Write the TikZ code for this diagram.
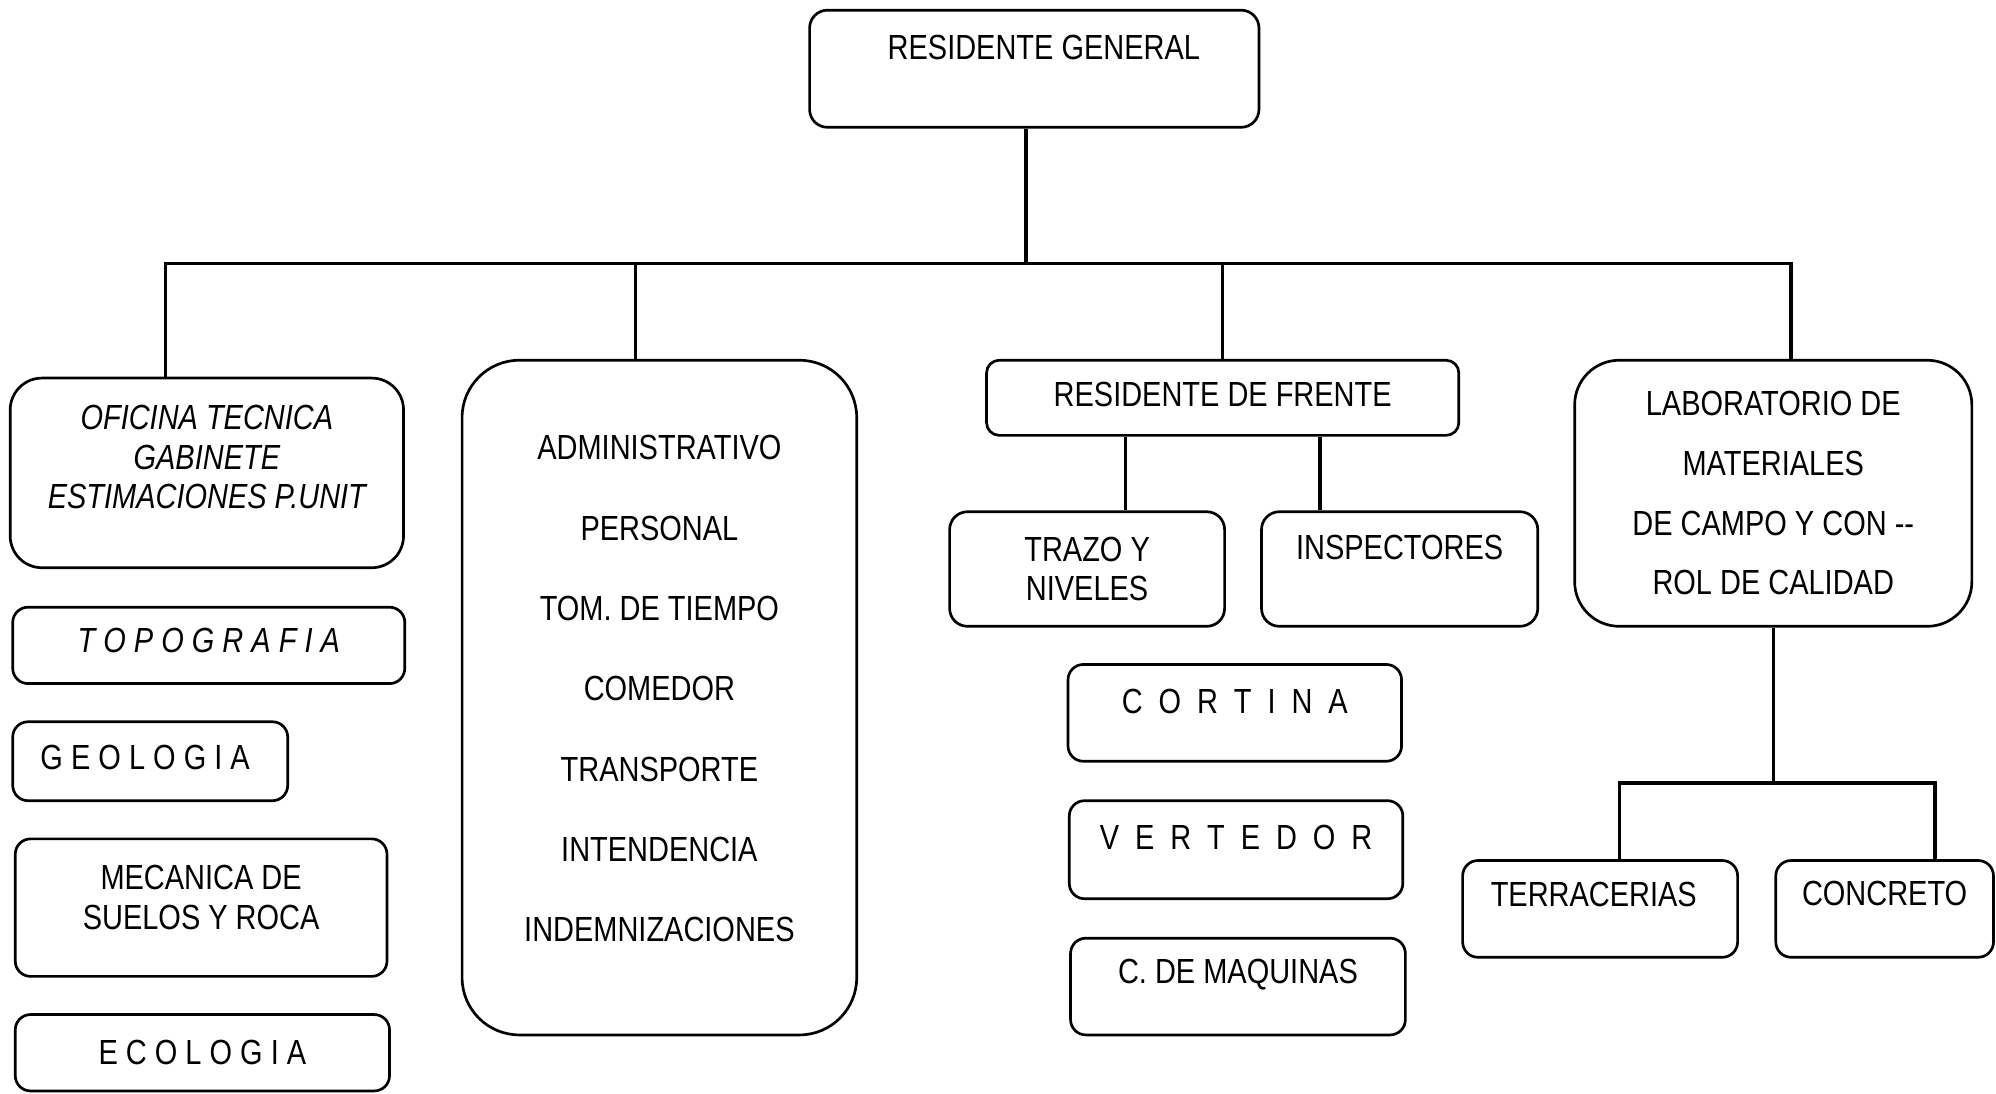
\documentclass[tikz,border=0pt]{standalone}
\usepackage{fontspec}
\setmainfont{Liberation Sans}[FakeStretch=0.83]
\newcommand\spaced[1]{{\spaceskip=0.25cm\relax #1}}

\begin{document}
\begin{tikzpicture}[
  box/.style={draw, line width=1.2pt, rounded corners=0.24cm, inner sep=0pt},
  txt/.style={align=center, inner sep=0pt, font=\fontsize{15.6}{17.6}\selectfont},
  itxt/.style={txt, font=\fontsize{15.6}{17.6}\selectfont\itshape},
  line/.style={line width=1.5pt}
]
\useasboundingbox (0,0) rectangle (31.36,-17.18);
\node[box, rounded corners=0.28cm, minimum width=7.06cm, minimum height=1.84cm,
  label={[txt,xshift=0.15cm,yshift=0.34cm]center:RESIDENTE GENERAL}] (gen) at (16.25,-1.08) {};
\node[box, rounded corners=0.5cm, minimum width=6.18cm, minimum height=2.98cm,
  label={[itxt,yshift=0.25cm]center:OFICINA TECNICA\\GABINETE\\ESTIMACIONES P.UNIT}] (oficina) at (3.25,-7.43) {};
\node[box, minimum width=6.16cm, minimum height=1.20cm,
  label={[itxt,yshift=0.08cm]center:T O P O G R A F I A}] (topo) at (3.28,-10.14) {};
\node[box, minimum width=4.32cm, minimum height=1.24cm,
  label={[txt,xshift=-0.08cm,yshift=0.06cm]center:G E O L O G I A}] (geo) at (2.36,-11.96) {};
\node[box, minimum width=5.84cm, minimum height=2.16cm,
  label={[txt,yshift=0.16cm]center:MECANICA DE\\SUELOS Y ROCA}] (suelos) at (3.16,-14.26) {};
\node[box, minimum width=5.88cm, minimum height=1.20cm,
  label={[txt]center:E C O L O G I A}] (eco) at (3.18,-16.54) {};
\node[box, rounded corners=0.9cm, minimum width=6.20cm, minimum height=10.60cm,
  label={[txt,yshift=0.14cm]center:ADMINISTRATIVO\\[18.3pt]PERSONAL\\[18.3pt]TOM. DE TIEMPO\\[18.3pt]COMEDOR\\[18.3pt]TRANSPORTE\\[18.3pt]INTENDENCIA\\[18.3pt]INDEMNIZACIONES}] (admin) at (10.36,-10.96) {};
\node[box, rounded corners=0.2cm, minimum width=7.42cm, minimum height=1.18cm,
  label={[txt,yshift=0.05cm]center:RESIDENTE DE FRENTE}] (frente) at (19.21,-6.25) {};
\node[box, rounded corners=0.28cm, minimum width=4.32cm, minimum height=1.80cm,
  label={[txt]center:TRAZO Y\\NIVELES}] (trazo) at (17.08,-8.94) {};
\node[box, rounded corners=0.28cm, minimum width=4.34cm, minimum height=1.80cm,
  label={[txt,yshift=0.34cm]center:INSPECTORES}] (insp) at (21.99,-8.94) {};
\node[box, minimum width=5.24cm, minimum height=1.52cm,
  label={[txt,yshift=0.18cm]center:\spaced{C O R T I N A}}] (cortina) at (19.40,-11.20) {};
\node[box, minimum width=5.24cm, minimum height=1.54cm,
  label={[txt,yshift=0.19cm]center:\spaced{V E R T E D O R}}] (vertedor) at (19.42,-13.35) {};
\node[box, minimum width=5.26cm, minimum height=1.52cm,
  label={[txt,yshift=0.18cm]center:C. DE MAQUINAS}] (maquinas) at (19.45,-15.50) {};
\node[box, rounded corners=0.7cm, minimum width=6.24cm, minimum height=4.18cm,
  label={[txt]center:LABORATORIO DE\\[9.1pt]MATERIALES\\[9.1pt]DE CAMPO Y CON -{}-\\[9.1pt]ROL DE CALIDAD}] (lab) at (27.86,-7.75) {};
\node[box, minimum width=4.32cm, minimum height=1.52cm,
  label={[txt,xshift=-0.1cm,yshift=0.22cm]center:TERRACERIAS}] (terr) at (25.14,-14.28) {};
\node[box, minimum width=3.42cm, minimum height=1.52cm,
  label={[txt,yshift=0.24cm]center:CONCRETO}] (concreto) at (29.61,-14.28) {};

\coordinate (bus) at (16.12,-4.14);
\coordinate (labbus) at (27.88,-12.30);
\draw[line] ([xshift=-0.13cm]gen.south) -- (bus);
\draw[line] ([xshift=-0.65cm]oficina.north) |- ([xshift=0.28cm]lab.north |- bus) -- ([xshift=0.28cm]lab.north);
\draw[line] ([xshift=-0.38cm]admin.north) -- ([xshift=-0.38cm]admin.north |- bus);
\draw[line] (frente.north) -- (frente.north |- bus);
\draw[line] ([xshift=0.60cm]trazo.north) -- ([xshift=0.60cm]trazo.north |- frente.south);
\draw[line] ([xshift=-1.25cm]insp.north) -- ([xshift=-1.25cm]insp.north |- frente.south);
\draw[line] (lab.south) -- (lab.south |- labbus);
\draw[line] ([xshift=0.30cm]terr.north) |- ([xshift=0.79cm]concreto.north |- labbus) -- ([xshift=0.79cm]concreto.north);
\end{tikzpicture}
\end{document}
